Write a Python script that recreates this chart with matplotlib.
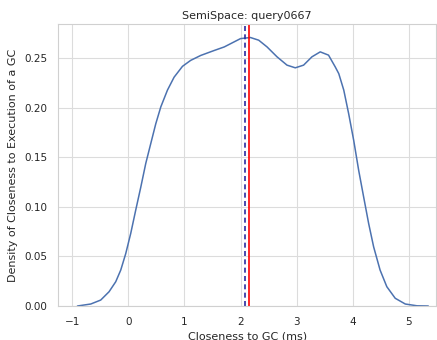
import matplotlib
matplotlib.use("Agg")
import matplotlib.pyplot as plt
import seaborn as sns

sns.set_theme(style="whitegrid")
plt.rcParams['font.family'] = ['DejaVu Sans']

# density curve
xs = [-0.91, -0.673, -0.495, -0.346, -0.227, -0.1375, -0.048, 0.041, 0.13, 0.22,
      0.309, 0.398, 0.4875, 0.577, 0.696, 0.814, 0.964, 1.11, 1.29, 1.53,
      1.71, 1.886, 2.0, 2.176, 2.324, 2.473, 2.651, 2.829, 2.977, 3.125,
      3.274, 3.422, 3.57, 3.689, 3.753, 3.842, 3.93, 4.02, 4.108, 4.197,
      4.286, 4.375, 4.49, 4.61, 4.76, 4.94, 5.15, 5.35]
ys = [0.0, 0.002, 0.006, 0.0144, 0.0245, 0.0363, 0.053, 0.0734, 0.0969, 0.120,
      0.144, 0.164, 0.184, 0.201, 0.218, 0.231, 0.242, 0.248, 0.253, 0.258,
      0.2616, 0.2667, 0.270, 0.2711, 0.2684, 0.2616, 0.2516, 0.2432, 0.2405, 0.2432,
      0.2516, 0.2566, 0.2533, 0.2415, 0.2346, 0.218, 0.194, 0.167, 0.137, 0.110,
      0.0833, 0.0597, 0.0363, 0.0195, 0.0078, 0.002, 0.0002, 0.0]

mean_line = 2.08
median_line = 2.15

fig = plt.figure(figsize=(4.37, 3.40), dpi=100)
ax = fig.add_axes([0.133, 0.1, 0.865, 0.829])
ax.plot(xs, ys, color="#4c72b0", lw=1.1)
ax.axvline(mean_line, color="#2a2aa0", ls="--", lw=1.2, dashes=(3, 2))
ax.axvline(median_line, color="red", lw=1.2)
ax.set_xlim(-1.255, 5.49)
ax.set_ylim(0, 0.2846)
ax.set_xticks([-1, 0, 1, 2, 3, 4, 5])
ax.set_yticks([0, 0.05, 0.10, 0.15, 0.20, 0.25])
ax.set_yticklabels(["0.00", "0.05", "0.10", "0.15", "0.20", "0.25"])
ax.tick_params(labelsize=7.5, pad=2)
ax.grid(True, lw=0.8, color="#dcdcdc")
ax.set_title("SemiSpace: query0667", fontsize=8, pad=4)
ax.set_xlabel("Closeness to GC (ms)", fontsize=8, labelpad=3)
ax.set_ylabel("Density of Closeness to Execution of a GC", fontsize=8, labelpad=4)
for s in ax.spines.values():
    s.set_color("#d0d0d0")
    s.set_linewidth(0.8)
fig.savefig("out.png", dpi=100)
